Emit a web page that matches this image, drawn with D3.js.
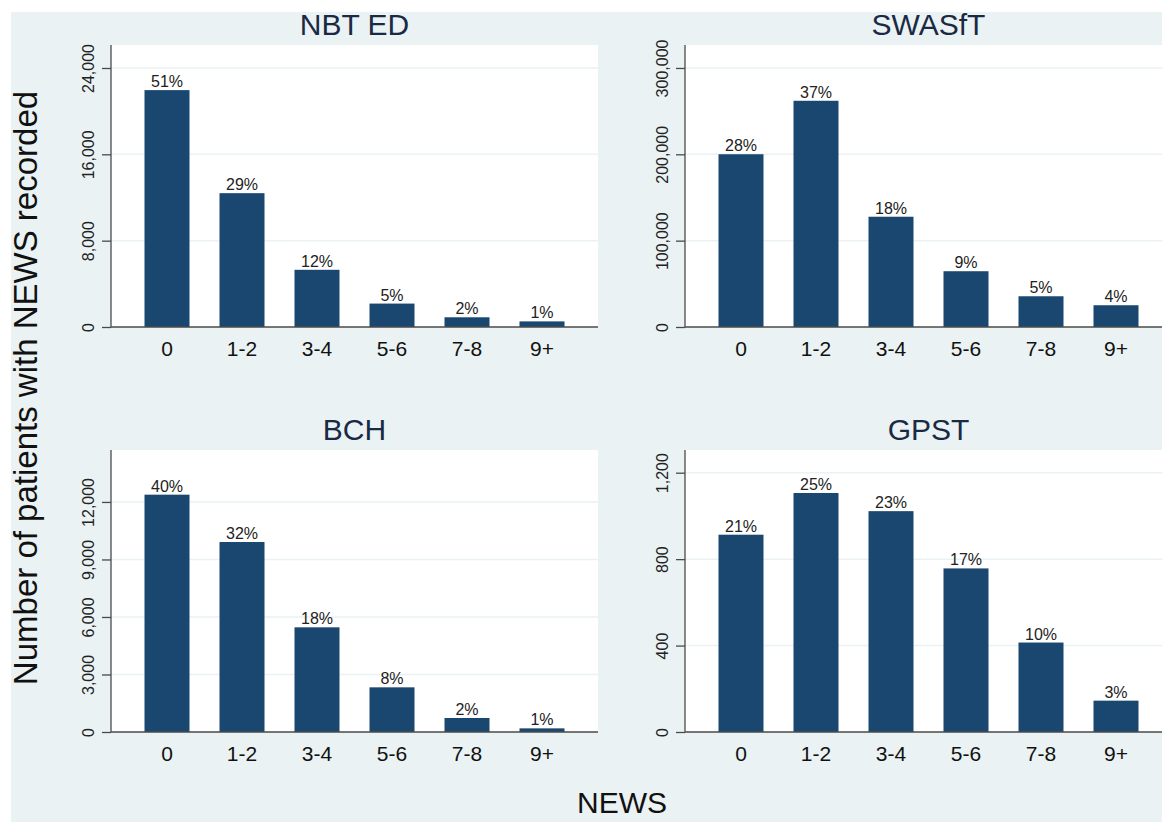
<!DOCTYPE html>
<html lang="en">
    <head>
        <meta charset="utf-8">
        <title>NEWS by site</title>
        <script src="https://d3js.org/d3.v7.min.js"></script>
        <style>
            body { margin: 0; background: #ffffff; }
            text { font-family: "Liberation Sans", Arial, sans-serif; }
        </style>
    </head>
    <body>
        <div id="dataviz"></div>
        <script>
            // data
            var categories = ["0", "1-2", "3-4", "5-6", "7-8", "9+"];
            var sites = ["NBT ED", "SWASfT", "BCH", "GPST"];

            var nbtCounts = [21950, 12400, 5300, 2170, 900, 520];
            var swasftCounts = [200100, 262000, 127700, 64600, 35600, 25200];
            var bchCounts = [12380, 9910, 5460, 2330, 730, 190];
            var gpstCounts = [913, 1106, 1022, 757, 414, 145];

            var nbtPct = ["51%", "29%", "12%", "5%", "2%", "1%"];
            var swasftPct = ["28%", "37%", "18%", "9%", "5%", "4%"];
            var bchPct = ["40%", "32%", "18%", "8%", "2%", "1%"];
            var gpstPct = ["21%", "25%", "23%", "17%", "10%", "3%"];

            var nbtTicks = [0, 8000, 16000, 24000];
            var swasftTicks = [0, 100000, 200000, 300000];
            var bchTicks = [0, 3000, 6000, 9000, 12000];
            var gpstTicks = [0, 400, 800, 1200];

            var yMax = [26130, 326600, 14710, 1305];

            var panels = [
                {name: sites[0], counts: nbtCounts, pct: nbtPct, ticks: nbtTicks, max: yMax[0], col: 0, row: 0},
                {name: sites[1], counts: swasftCounts, pct: swasftPct, ticks: swasftTicks, max: yMax[1], col: 1, row: 0},
                {name: sites[2], counts: bchCounts, pct: bchPct, ticks: bchTicks, max: yMax[2], col: 0, row: 1},
                {name: sites[3], counts: gpstCounts, pct: gpstPct, ticks: gpstTicks, max: yMax[3], col: 1, row: 1}
            ];

            var W = 1162, H = 822;
            var colLeft = [111, 685], plotW = 487;
            var rowTop = [45, 450], rowBottom = [327, 732];
            var bg = "#eaf2f3", barColor = "#1a476f", axisColor = "#4a4a4a";

            var svg = d3.select("#dataviz")
                        .append("svg")
                        .attr("width", W)
                        .attr("height", H);

            svg.append("rect").attr("x", 11).attr("y", 12)
                .attr("width", W - 11).attr("height", H - 12)
                .attr("fill", bg);

            var fmt = d3.format(",");

            panels.forEach(function(p) {
                var left = colLeft[p.col], top = rowTop[p.row], bottom = rowBottom[p.row];

                var x = d3.scaleBand()
                            .domain(categories)
                            .range([left + 18.5, left + plotW - 18.5])
                            .paddingInner(0.4)
                            .paddingOuter(0.2);

                var y = d3.scaleLinear()
                            .domain([0, p.max])
                            .range([bottom, top]);

                var g = svg.append("g");

                // plot region
                g.append("rect")
                    .attr("x", left).attr("y", top)
                    .attr("width", plotW).attr("height", bottom - top)
                    .attr("fill", "#ffffff");

                // gridlines
                g.selectAll(".grid")
                    .data(p.ticks.slice(1))
                    .enter()
                    .append("line")
                    .attr("x1", left).attr("x2", left + plotW)
                    .attr("y1", function(d) { return y(d); })
                    .attr("y2", function(d) { return y(d); })
                    .attr("stroke", bg)
                    .attr("stroke-width", 1.5);

                // bars
                g.selectAll(".bar")
                    .data(p.counts)
                    .enter()
                    .append("rect")
                    .attr("x", function(d, i) { return x(categories[i]); })
                    .attr("y", function(d) { return y(d); })
                    .attr("width", x.bandwidth())
                    .attr("height", function(d) { return bottom - y(d); })
                    .attr("fill", barColor);

                // percentage labels
                g.selectAll(".pct")
                    .data(p.counts)
                    .enter()
                    .append("text")
                    .attr("x", function(d, i) { return x(categories[i]) + x.bandwidth() / 2; })
                    .attr("y", function(d) { return y(d) - 3; })
                    .attr("text-anchor", "middle")
                    .style("font-size", "16px")
                    .style("fill", "#222")
                    .text(function(d, i) { return p.pct[i]; });

                // y axis
                var yAxis = g.append("g")
                    .attr("transform", "translate(" + left + ",0)")
                    .call(d3.axisLeft(y).tickValues(p.ticks).tickFormat(fmt).tickSize(9).tickPadding(0));
                yAxis.select(".domain").attr("stroke", axisColor).attr("stroke-width", 1.3)
                    .attr("d", "M0," + top + "V" + bottom);
                yAxis.selectAll(".tick line").attr("stroke", axisColor).attr("stroke-width", 1.3);
                yAxis.selectAll(".tick text")
                    .attr("x", null).attr("y", null).attr("dy", null)
                    .attr("transform", "translate(-17,0) rotate(-90)")
                    .attr("text-anchor", "middle")
                    .style("font-size", "16px")
                    .style("font-family", "'Liberation Sans', Arial, sans-serif")
                    .style("fill", "#222");

                // x axis
                var xAxis = g.append("g")
                    .attr("transform", "translate(0," + bottom + ")")
                    .call(d3.axisBottom(x).tickSize(0).tickPadding(0));
                xAxis.select(".domain").attr("stroke", axisColor).attr("stroke-width", 1.3)
                    .attr("d", "M" + left + ",0H" + (left + plotW));
                xAxis.selectAll(".tick text")
                    .attr("y", 29).attr("dy", null)
                    .style("font-size", "21px")
                    .style("font-family", "'Liberation Sans', Arial, sans-serif")
                    .style("fill", "#111");

                // panel title
                g.append("text")
                    .attr("x", left + plotW / 2)
                    .attr("y", top - 10)
                    .attr("text-anchor", "middle")
                    .style("font-size", "30px")
                    .style("fill", "#1a2a44")
                    .text(p.name);
            });

            svg.append("text")
                .attr("transform", "translate(37,388) rotate(-90)")
                .attr("text-anchor", "middle")
                .style("font-size", "33px")
                .style("fill", "#111")
                .text("Number of patients with NEWS recorded");

            svg.append("text")
                .attr("x", 622).attr("y", 813)
                .attr("text-anchor", "middle")
                .style("font-size", "30px")
                .style("fill", "#111")
                .text("NEWS");
        </script>
    </body>
</html>
